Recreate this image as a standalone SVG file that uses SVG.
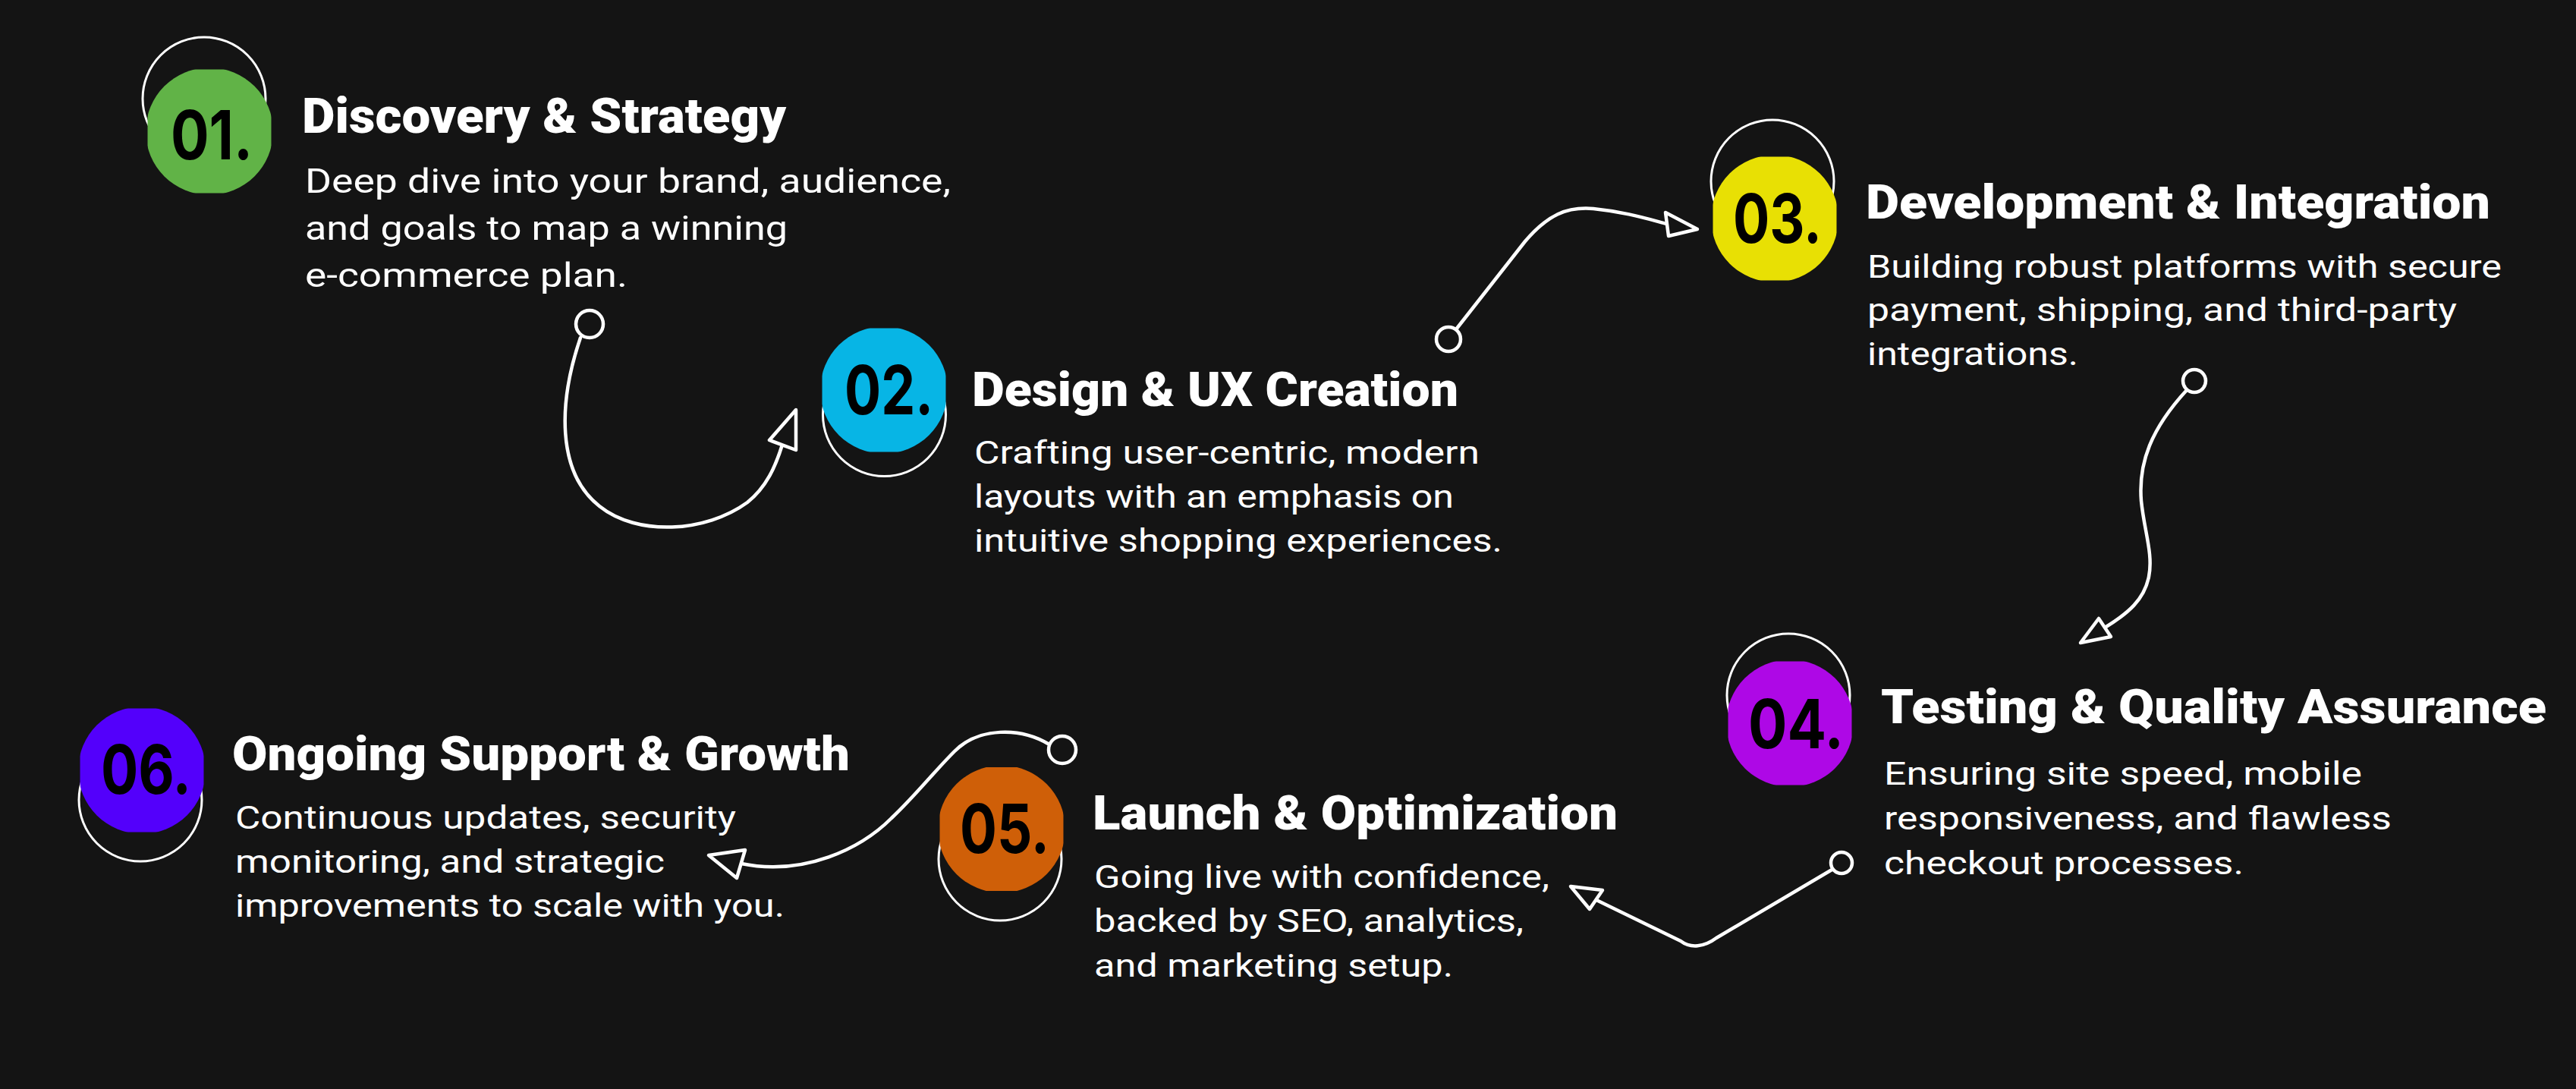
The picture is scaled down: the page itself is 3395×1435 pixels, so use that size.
<svg xmlns="http://www.w3.org/2000/svg" width="3395" height="1435" viewBox="0 0 3395 1435">
<defs>
<clipPath id="bclip" clipPathUnits="objectBoundingBox"><rect x="0.015" y="0.015" width="0.97" height="0.97"/></clipPath>
<style>
.ring{fill:none;stroke:#ffffff;stroke-width:3}
.badge{clip-path:url(#bclip)}
.num{font-family:Inter,"Liberation Sans",sans-serif;font-weight:700;font-size:90px;fill:#000000}
.title{font-family:Roboto,"Liberation Sans",sans-serif;font-weight:900;fill:#ffffff}
.body{font-family:Roboto,"Liberation Sans",sans-serif;font-weight:400;fill:#ffffff}
.conn{fill:none;stroke:#ffffff;stroke-width:4.5;stroke-linecap:round;stroke-linejoin:round}
.dot{fill:#141414;stroke:#ffffff;stroke-width:4.5}
.head{fill:#141414;stroke:#ffffff;stroke-width:4.5;stroke-linejoin:round}
</style>
</defs>
<rect x="0" y="0" width="3395" height="1435" fill="#141414"/>

<g id="connectors">
  <path class="conn" d="M765,445 C736,530 733,622 790,667 C840,707 930,702 985,662 C1010,642 1022,615 1031,586"/>
  <circle class="dot" cx="777" cy="427" r="18"/>
  <polygon class="head" points="1049,540 1014,580 1049,593"/>

  <path class="conn" d="M1919,434 L2010,318 C2040,283 2065,272 2100,275 C2140,279 2170,288 2197,295"/>
  <circle class="dot" cx="1909" cy="447" r="16"/>
  <polygon class="head" points="2237,302 2195,280 2199,311"/>

  <path class="conn" d="M2882,514 C2835,565 2818,610 2822,660 C2826,700 2838,730 2832,760 C2826,790 2805,808 2774,827"/>
  <circle class="dot" cx="2892" cy="502" r="15"/>
  <polygon class="head" points="2742,847 2766,815 2782,839"/>

  <path class="conn" d="M2416,1145 L2262,1236 C2246,1248 2228,1250 2215,1240 L2104,1186"/>
  <circle class="dot" cx="2427" cy="1137" r="14"/>
  <polygon class="head" points="2070,1168 2112,1173 2095,1198"/>

  <path class="conn" d="M1383,981 C1345,958 1290,958 1258,990 C1230,1018 1205,1050 1175,1078 C1135,1118 1060,1155 977,1138"/>
  <circle class="dot" cx="1400" cy="988" r="18"/>
  <polygon class="head" points="934,1127 982,1120 971,1157"/>
</g>

<g id="node-01">
  <circle class="ring" cx="269" cy="130" r="81"/>
  <circle class="badge" cx="276" cy="173" r="84" fill="#61b347"/>
  <text class="num" x="225" y="210" textLength="108" lengthAdjust="spacingAndGlyphs">01.</text>
  <text class="title" x="398" y="175" font-size="65" textLength="638" lengthAdjust="spacingAndGlyphs">Discovery &amp; Strategy</text>
  <text class="body" font-size="45">
    <tspan x="402" y="254" textLength="851" lengthAdjust="spacingAndGlyphs">Deep dive into your brand, audience,</tspan>
    <tspan x="402" y="316" textLength="636" lengthAdjust="spacingAndGlyphs">and goals to map a winning</tspan>
    <tspan x="402" y="378" textLength="425" lengthAdjust="spacingAndGlyphs">e-commerce plan.</tspan>
  </text>
</g>

<g id="node-02">
  <circle class="ring" cx="1165.5" cy="546.5" r="81"/>
  <circle class="badge" cx="1165" cy="514" r="84" fill="#07b5e5"/>
  <text class="num" x="1113" y="546" textLength="117" lengthAdjust="spacingAndGlyphs">02.</text>
  <text class="title" x="1281" y="535" font-size="63" textLength="641" lengthAdjust="spacingAndGlyphs">Design &amp; UX Creation</text>
  <text class="body" font-size="42">
    <tspan x="1284" y="611" textLength="666" lengthAdjust="spacingAndGlyphs">Crafting user-centric, modern</tspan>
    <tspan x="1284" y="669" textLength="632" lengthAdjust="spacingAndGlyphs">layouts with an emphasis on</tspan>
    <tspan x="1284" y="727" textLength="696" lengthAdjust="spacingAndGlyphs">intuitive shopping experiences.</tspan>
  </text>
</g>

<g id="node-03">
  <circle class="ring" cx="2336" cy="239" r="81"/>
  <circle class="badge" cx="2339" cy="288" r="84" fill="#e8e004"/>
  <text class="num" x="2284" y="320" textLength="117" lengthAdjust="spacingAndGlyphs">03.</text>
  <text class="title" x="2459" y="288" font-size="63" textLength="823" lengthAdjust="spacingAndGlyphs">Development &amp; Integration</text>
  <text class="body" font-size="42">
    <tspan x="2461" y="366" textLength="836" lengthAdjust="spacingAndGlyphs">Building robust platforms with secure</tspan>
    <tspan x="2461" y="423" textLength="777" lengthAdjust="spacingAndGlyphs">payment, shipping, and third-party</tspan>
    <tspan x="2461" y="481" textLength="278" lengthAdjust="spacingAndGlyphs">integrations.</tspan>
  </text>
</g>

<g id="node-04">
  <circle class="ring" cx="2357" cy="916" r="81"/>
  <circle class="badge" cx="2359" cy="953" r="84" fill="#ae08e6"/>
  <text class="num" x="2304" y="986" textLength="126" lengthAdjust="spacingAndGlyphs">04.</text>
  <text class="title" x="2479" y="953" font-size="63" textLength="877" lengthAdjust="spacingAndGlyphs">Testing &amp; Quality Assurance</text>
  <text class="body" font-size="42">
    <tspan x="2483" y="1034" textLength="630" lengthAdjust="spacingAndGlyphs">Ensuring site speed, mobile</tspan>
    <tspan x="2483" y="1093" textLength="669" lengthAdjust="spacingAndGlyphs">responsiveness, and flawless</tspan>
    <tspan x="2483" y="1152" textLength="474" lengthAdjust="spacingAndGlyphs">checkout processes.</tspan>
  </text>
</g>

<g id="node-05">
  <circle class="ring" cx="1318" cy="1132" r="81"/>
  <circle class="badge" cx="1320" cy="1092.5" r="84" fill="#cf5f08"/>
  <text class="num" x="1265" y="1124" textLength="118" lengthAdjust="spacingAndGlyphs">05.</text>
  <text class="title" x="1440" y="1093" font-size="63" textLength="692" lengthAdjust="spacingAndGlyphs">Launch &amp; Optimization</text>
  <text class="body" font-size="42">
    <tspan x="1442" y="1170" textLength="600" lengthAdjust="spacingAndGlyphs">Going live with confidence,</tspan>
    <tspan x="1442" y="1228" textLength="566" lengthAdjust="spacingAndGlyphs">backed by SEO, analytics,</tspan>
    <tspan x="1442" y="1287" textLength="473" lengthAdjust="spacingAndGlyphs">and marketing setup.</tspan>
  </text>
</g>

<g id="node-06">
  <circle class="ring" cx="185" cy="1054" r="81"/>
  <circle class="badge" cx="187" cy="1015" r="84" fill="#5300fb"/>
  <text class="num" x="133" y="1046" textLength="119" lengthAdjust="spacingAndGlyphs">06.</text>
  <text class="title" x="306" y="1015" font-size="63" textLength="814" lengthAdjust="spacingAndGlyphs">Ongoing Support &amp; Growth</text>
  <text class="body" font-size="42">
    <tspan x="310" y="1092" textLength="660" lengthAdjust="spacingAndGlyphs">Continuous updates, security</tspan>
    <tspan x="310" y="1150" textLength="566" lengthAdjust="spacingAndGlyphs">monitoring, and strategic</tspan>
    <tspan x="310" y="1208" textLength="724" lengthAdjust="spacingAndGlyphs">improvements to scale with you.</tspan>
  </text>
</g>
</svg>
